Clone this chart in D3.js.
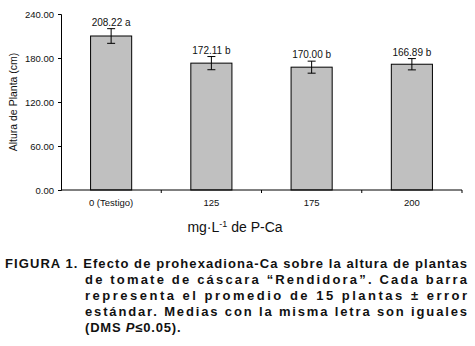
<!DOCTYPE html>
<html>
<head>
<meta charset="utf-8">
<script src="https://cdn.jsdelivr.net/npm/d3@7"></script>
<style>
  body { margin: 0; background: #fff; }
  svg text { font-family: "Liberation Sans", Arial, sans-serif; }
</style>
</head>
<body>
<div id="chart"></div>
<script>
// data
var categories = ["0 (Testigo)", "125", "175", "200"];
var alturas = [210, 173, 167.5, 171.5];
var errores = [10, 9, 8.2, 7.7];
var etiquetas = ["208.22 a", "172.11 b", "170.00 b", "166.89 b"];
var yTicks = [0, 60, 120, 180, 240];

var captionLines = [
	"FIGURA 1. Efecto de prohexadiona-Ca sobre la altura de plantas",
	"de tomate de cáscara “Rendidora”. Cada barra",
	"representa el promedio de 15 plantas ± error",
	"estándar. Medias con la misma letra son iguales"
];

let width = 475, height = 346;
let mLeft = 61, mRight = 462, mTop = 14, mBottom = 190;

var svg = d3.select("#chart")
	.append("svg")
	.attr("width", width)
	.attr("height", height);

svg.append("rect").attr("width", width).attr("height", height).attr("fill", "white");

var x = d3.scaleBand()
	.domain(categories)
	.range([mLeft, mRight])
	.paddingInner(0.59)
	.paddingOuter(0.295);

var y = d3.scaleLinear()
	.domain([0, 240])
	.range([mBottom, mTop]);

// bars
svg.selectAll("rect.bar")
	.data(categories)
	.enter()
	.append("rect")
	.attr("class", "bar")
	.attr("x", d => x(d))
	.attr("y", (d, i) => y(alturas[i]))
	.attr("width", x.bandwidth())
	.attr("height", (d, i) => y(0) - y(alturas[i]))
	.attr("fill", "#c0c0c0")
	.attr("stroke", "black")
	.attr("stroke-width", 1);

// error bars
var eb = svg.selectAll("g.err")
	.data(categories)
	.enter()
	.append("g")
	.attr("class", "err")
	.attr("stroke", "black")
	.attr("stroke-width", 1);

eb.append("line")
	.attr("x1", d => x(d) + x.bandwidth() / 2)
	.attr("x2", d => x(d) + x.bandwidth() / 2)
	.attr("y1", (d, i) => y(alturas[i] + errores[i]))
	.attr("y2", (d, i) => y(alturas[i] - errores[i]));
eb.append("line")
	.attr("x1", d => x(d) + x.bandwidth() / 2 - 4)
	.attr("x2", d => x(d) + x.bandwidth() / 2 + 4)
	.attr("y1", (d, i) => y(alturas[i] + errores[i]))
	.attr("y2", (d, i) => y(alturas[i] + errores[i]));
eb.append("line")
	.attr("x1", d => x(d) + x.bandwidth() / 2 - 4)
	.attr("x2", d => x(d) + x.bandwidth() / 2 + 4)
	.attr("y1", (d, i) => y(alturas[i] - errores[i]))
	.attr("y2", (d, i) => y(alturas[i] - errores[i]));

// value labels
svg.selectAll("text.lbl")
	.data(categories)
	.enter()
	.append("text")
	.attr("class", "lbl")
	.attr("x", d => x(d) + x.bandwidth() / 2)
	.attr("y", (d, i) => y(alturas[i] + errores[i]) - 3)
	.attr("text-anchor", "middle")
	.attr("font-size", "10px")
	.attr("fill", "#111")
	.text((d, i) => etiquetas[i]);

// y axis
var yAxis = svg.append("g")
	.attr("transform", "translate(" + mLeft + ",0)")
	.call(d3.axisLeft(y).tickValues(yTicks).tickSize(3).tickPadding(4).tickFormat(d3.format(".2f")));
yAxis.select(".domain").attr("stroke", "black");
yAxis.selectAll("text").attr("font-size", "9.5px").attr("font-family", "Liberation Sans, Arial, sans-serif").attr("fill", "#111");

// x axis: ticks sit between categories
var xAxis = svg.append("g")
	.attr("transform", "translate(0," + mBottom + ")");
xAxis.append("line")
	.attr("x1", mLeft).attr("x2", mRight)
	.attr("stroke", "black");
xAxis.selectAll("line.tk")
	.data(categories)
	.enter()
	.append("line")
	.attr("class", "tk")
	.attr("x1", d => x(d) + x.bandwidth() / 2 + x.step() / 2)
	.attr("x2", d => x(d) + x.bandwidth() / 2 + x.step() / 2)
	.attr("y1", 0).attr("y2", 3)
	.attr("stroke", "black");
xAxis.selectAll("text")
	.data(categories)
	.enter()
	.append("text")
	.attr("x", d => x(d) + x.bandwidth() / 2)
	.attr("y", 16)
	.attr("text-anchor", "middle")
	.attr("font-size", "9.5px")
	.attr("fill", "#111")
	.text(d => d);

// axis titles
svg.append("text")
	.attr("transform", "translate(17,102) rotate(-90)")
	.attr("text-anchor", "middle")
	.attr("font-size", "10.5px")
	.attr("fill", "#111")
	.text("Altura de Planta (cm)");

var xt = svg.append("text")
	.attr("x", 235)
	.attr("y", 232)
	.attr("text-anchor", "middle")
	.attr("font-size", "14px")
	.attr("fill", "#111");
xt.append("tspan").text("mg·L");
xt.append("tspan").attr("font-size", "9px").attr("dy", -5).text("-1");
xt.append("tspan").attr("dy", 5).text(" de P-Ca");

// caption, justified with a hanging indent
var cap = svg.append("g")
	.attr("font-size", "13px")
	.attr("font-weight", "bold")
	.attr("fill", "#111");

cap.selectAll("text")
	.data(captionLines)
	.enter()
	.append("text")
	.attr("x", (d, i) => i == 0 ? 5 : 85)
	.attr("y", (d, i) => 268 + i * 16)
	.attr("textLength", (d, i) => i == 0 ? 462 : 382)
	.attr("lengthAdjust", "spacing")
	.text(d => d);

var last = cap.append("text")
	.attr("x", 85)
	.attr("y", 268 + 4 * 16)
	.attr("letter-spacing", "0.8px");
last.append("tspan").text("(DMS  ");
last.append("tspan").attr("font-style", "italic").text("P");
last.append("tspan").text("≤0.05).");
</script>
</body>
</html>
